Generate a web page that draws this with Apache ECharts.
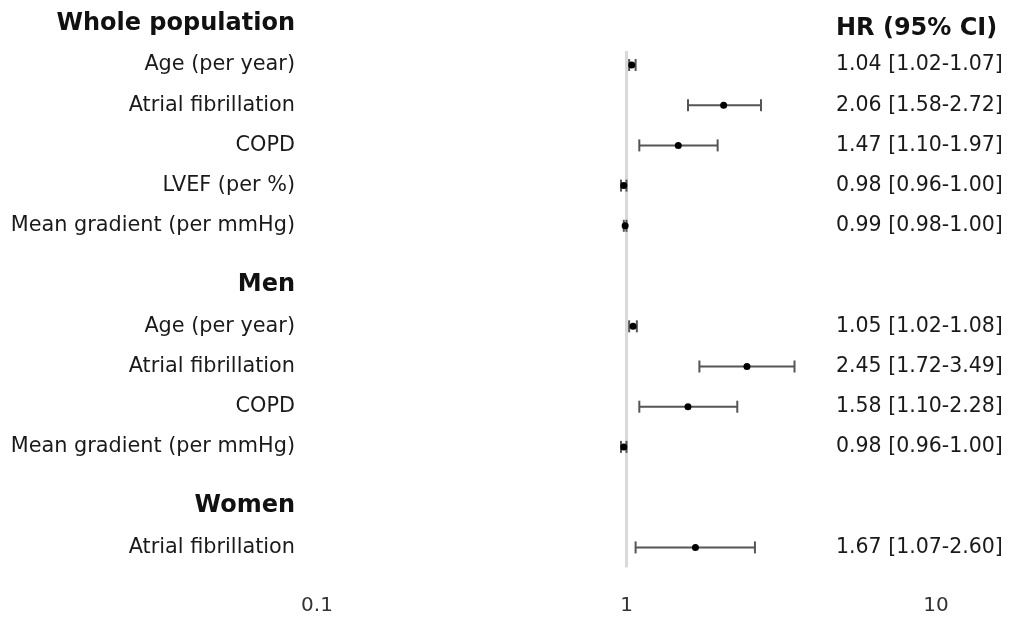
<!DOCTYPE html>
<html>
<head>
<meta charset="utf-8">
<script src="https://cdn.jsdelivr.net/npm/echarts@6/dist/echarts.min.js"></script>
<style>
  html, body { margin: 0; padding: 0; background: #fff; }
  #chart { width: 1010px; height: 621px; }
</style>
</head>
<body>
<div id="chart"></div>
<script>
// ---- data ----
const labels = ['Whole population', 'Age (per year)', 'Atrial fibrillation', 'COPD', 'LVEF (per %)', 'Mean gradient (per mmHg)',
                'Men', 'Age (per year)', 'Atrial fibrillation', 'COPD', 'Mean gradient (per mmHg)',
                'Women', 'Atrial fibrillation'];
const hr    = [null, 1.04, 2.06, 1.47, 0.98, 0.99, null, 1.05, 2.45, 1.58, 0.98, null, 1.67];
const lower = [null, 1.02, 1.58, 1.10, 0.96, 0.98, null, 1.02, 1.72, 1.10, 0.96, null, 1.07];
const upper = [null, 1.07, 2.72, 1.97, 1.00, 1.00, null, 1.08, 3.49, 2.28, 1.00, null, 2.60];
const hrHeader = 'HR (95% CI)';
const xMin = 0.1, xMax = 10, refValue = 1;

// ---- row layout (in row units) ----
const rowPos = [];
let p = 1;
labels.forEach((l, i) => {
  const isHeader = hr[i] === null;
  if (i > 0) p += isHeader ? 3 : 2;
  rowPos.push(p);
});
const yMax = rowPos[rowPos.length - 1] + 2;
const leftLabelAt = {}, rightLabelAt = {};
labels.forEach((l, i) => {
  if (hr[i] === null) {
    leftLabelAt[rowPos[i]] = '{h|' + l + '}';
  } else {
    leftLabelAt[rowPos[i]] = l;
    rightLabelAt[rowPos[i]] = hr[i].toFixed(2) + ' [' + lower[i].toFixed(2) + '-' + upper[i].toFixed(2) + ']';
  }
});
rightLabelAt[rowPos[0]] = '{h|' + hrHeader + '}';

const ciData = [];
labels.forEach((l, i) => {
  if (hr[i] !== null) ciData.push([lower[i], upper[i], hr[i], rowPos[i]]);
});
const itemRows = ciData.map(d => d[3]);
const refTop = Math.min(...itemRows) - 0.7;
const refBot = Math.max(...itemRows) + 1.0;

const chart = echarts.init(document.getElementById('chart'), null, { renderer: 'canvas' });
const FONT = 'DejaVu Sans';
chart.setOption({
  animation: false,
  backgroundColor: '#ffffff',
  grid: { left: 317, right: 74, top: 4.7, bottom: 33.4, containLabel: false },
  xAxis: {
    type: 'log', logBase: 10, min: xMin, max: xMax,
    axisLine: { show: false }, axisTick: { show: false }, splitLine: { show: false },
    axisLabel: { fontFamily: FONT, fontSize: 20, color: '#333', margin: 8,
      formatter: v => String(+v.toPrecision(3)) }
  },
  yAxis: [
    {
      type: 'value', inverse: true, min: 0, max: yMax, interval: 1,
      axisLine: { show: false }, axisTick: { show: false }, splitLine: { show: false },
      axisLabel: {
        margin: 22, fontFamily: FONT, fontSize: 20.8, color: '#1a1a1a',
        formatter: v => leftLabelAt[v] || '',
        rich: { h: { fontFamily: FONT, fontWeight: 'bold', fontSize: 24, color: '#111', padding: [0, 0, 2, 0] } }
      }
    },
    {
      type: 'value', inverse: true, min: 0, max: yMax, interval: 1,
      position: 'left', offset: -519,
      axisLine: { show: false }, axisTick: { show: false }, splitLine: { show: false },
      axisLabel: {
        inside: true, margin: 0, fontFamily: FONT, fontSize: 20.5, color: '#1a1a1a',
        formatter: v => rightLabelAt[v] || '',
        rich: { h: { fontFamily: FONT, fontWeight: 'bold', fontSize: 24, color: '#111', padding: [8, 0, 0, 0] } }
      }
    }
  ],
  series: [
    {
      type: 'custom',
      yAxisIndex: 0,
      data: ciData,
      encode: { x: [0, 1, 2], y: 3 },
      renderItem: function (params, api) {
        const y = api.value(3);
        const a = api.coord([api.value(0), y]);
        const b = api.coord([api.value(1), y]);
        const c = api.coord([api.value(2), y]);
        const cap = 6;
        const st = { stroke: '#555', lineWidth: 2 };
        return {
          type: 'group',
          children: [
            { type: 'line', shape: { x1: a[0], y1: a[1], x2: b[0], y2: b[1] }, style: st },
            { type: 'line', shape: { x1: a[0], y1: a[1] - cap, x2: a[0], y2: a[1] + cap }, style: st },
            { type: 'line', shape: { x1: b[0], y1: b[1] - cap, x2: b[0], y2: b[1] + cap }, style: st },
            { type: 'circle', shape: { cx: c[0], cy: c[1], r: 3.5 }, style: { fill: '#000' } }
          ]
        };
      },
      markLine: {
        silent: true, symbol: 'none', z: 1,
        label: { show: false },
        lineStyle: { color: '#d9d9d9', width: 3, type: 'solid' },
        data: [[{ coord: [refValue, refTop] }, { coord: [refValue, refBot] }]]
      }
    }
  ]
});
</script>
</body>
</html>
